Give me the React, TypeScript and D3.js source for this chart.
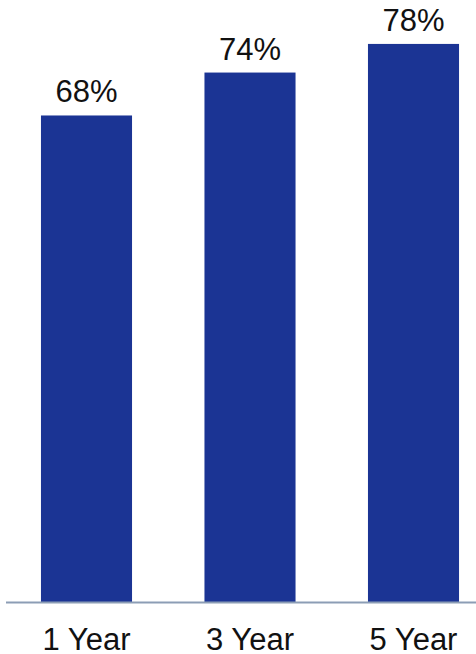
import React from "react";
import * as d3 from "d3";

const categories = ["1 Year", "3 Year", "5 Year"];
const values = [68, 74, 78];
const valueLabels = ["68%", "74%", "78%"];

const W = 476;
const H = 654;
const baseY = 602;

export default function App() {
  const x = d3
    .scaleBand<string>()
    .domain(categories)
    .range([5, 495])
    .paddingInner(0.443)
    .paddingOuter(0.22);
  const y = d3.scaleLinear().domain([0, 84.14]).range([baseY, 0]);
  const font = "'Liberation Sans', Arial, sans-serif";
  return (
    <div style={{ position: "fixed", left: 0, top: 0 }}>
      <svg width={W} height={H} style={{ display: "block" }}>
        <rect x={0} y={0} width={W} height={H} fill="#ffffff" />
        {categories.map((c, i) => (
          <g key={c}>
            <rect
              x={x(c)}
              y={y(values[i])}
              width={x.bandwidth()}
              height={baseY - y(values[i])}
              fill="#1b3494"
            />
            <text
              x={(x(c) as number) + x.bandwidth() / 2}
              y={y(values[i]) - 13}
              textAnchor="middle"
              fontFamily={font}
              fontSize={31}
              fill="#111"
            >
              {valueLabels[i]}
            </text>
            <text
              x={(x(c) as number) + x.bandwidth() / 2}
              y={650}
              textAnchor="middle"
              fontFamily={font}
              fontSize={31}
              fill="#111"
            >
              {c}
            </text>
          </g>
        ))}
        <line x1={6} x2={W} y1={602.5} y2={602.5} stroke="#8c9db5" strokeWidth={2} />
      </svg>
    </div>
  );
}
